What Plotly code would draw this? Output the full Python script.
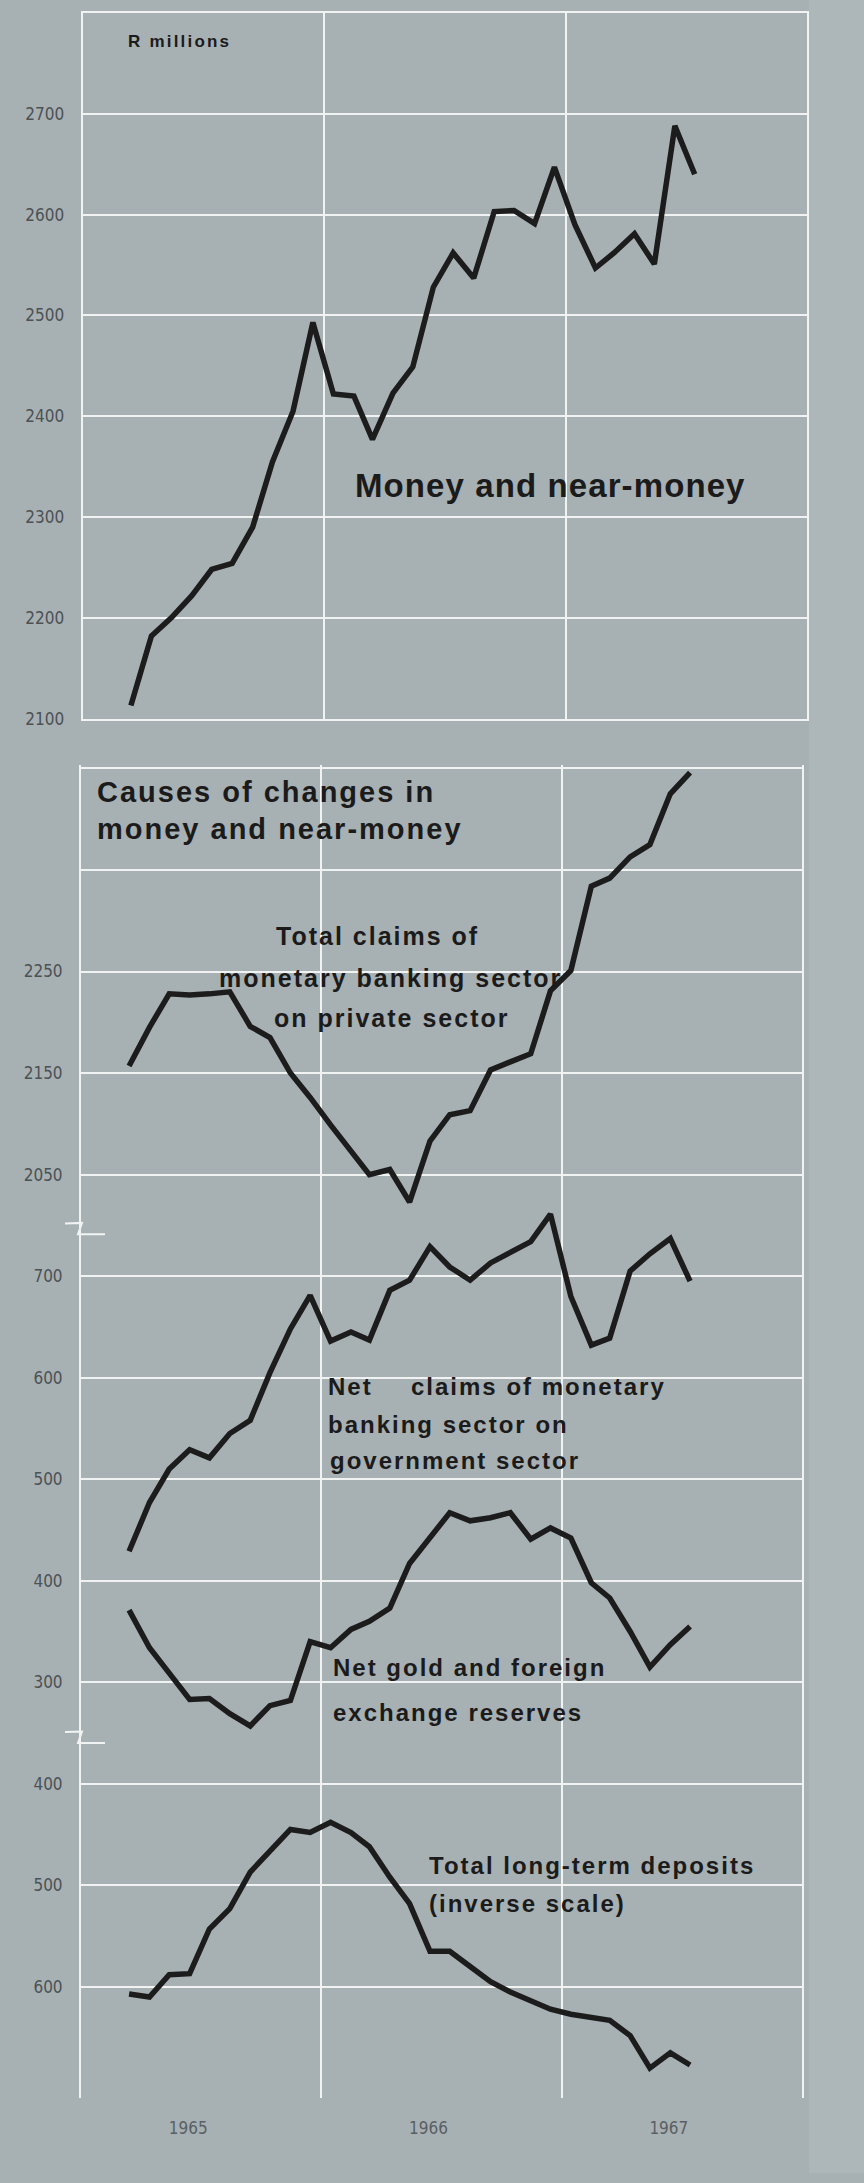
import plotly.graph_objects as go

W, H = 864, 2183

# ---------------- data (monthly, R millions) ----------------
months = ["1965-03", "1965-04", "1965-05", "1965-06", "1965-07", "1965-08", "1965-09",
          "1965-10", "1965-11", "1965-12", "1966-01", "1966-02", "1966-03", "1966-04",
          "1966-05", "1966-06", "1966-07", "1966-08", "1966-09", "1966-10", "1966-11",
          "1966-12", "1967-01", "1967-02", "1967-03", "1967-04", "1967-05", "1967-06",
          "1967-07"]
dates = [m + "-15" for m in months]

money_near_money = [2113, 2182, 2200, 2222, 2248, 2254, 2290, 2355, 2405, 2493, 2422, 2420,
                    2377, 2423, 2449, 2528, 2562, 2537, 2603, 2604, 2591, 2647, 2590, 2547,
                    2562, 2581, 2551, 2688, 2640]
private_claims = [2157, 2195, 2228, 2227, 2228, 2230, 2196, 2185, 2150, 2126, 2099, 2074,
                  2050, 2055, 2023, 2083, 2109, 2113, 2153, 2161, 2169, 2231, 2251, 2334,
                  2342, 2363, 2375, 2425, 2446]
government_claims = [429, 477, 510, 529, 521, 545, 558, 605, 648, 681, 636, 645, 637, 686,
                     696, 729, 709, 696, 713, 723, 734, 761, 680, 632, 639, 705, 722, 737, 695]
gold_reserves = [371, 334, 309, 283, 284, 269, 257, 277, 282, 340, 334, 352, 360, 373, 417,
                 443, 467, 459, 462, 467, 441, 452, 442, 398, 383, 350, 315, 337, 355]
long_term_deposits = [607, 610, 588, 587, 543, 523, 487, 467, 445, 448, 438, 448, 462, 492,
                      518, 565, 565, 580, 595, 605, 613, 622, 627, 630, 633, 648, 680, 665, 677]

top_ticks = [2100, 2200, 2300, 2400, 2500, 2600, 2700]
private_ticks = [2050, 2150, 2250, 2350, 2450]
private_ticktext = ["2050", "2150", "2250", "", ""]
govgold_ticks = [300, 400, 500, 600, 700]
deposit_ticks = [400, 500, 600]

# ---------------- style ----------------
BG = "#a7b0b3"
GRID = "#f1f3f3"
LINE = "#1c1c1c"
TXT = "#1b1b1b"
TICKC = "#4b5255"
TICKFONT = dict(family="DejaVu Sans Condensed, Liberation Sans Narrow, sans-serif",
                size=17, color=TICKC)
LABFONT = "Liberation Sans, Arial, Helvetica, sans-serif"


def py(p):
    return 1 - p / H


def pxx(p):
    return p / W


K = 1.02  # pixels per unit in lower panel

fig = go.Figure()

line_style = dict(color=LINE, width=5.5)
fig.add_trace(go.Scatter(x=dates, y=money_near_money, mode="lines", line=line_style,
                         xaxis="x", yaxis="y", showlegend=False))
fig.add_trace(go.Scatter(x=dates, y=private_claims, mode="lines", line=line_style,
                         xaxis="x2", yaxis="y2", showlegend=False))
fig.add_trace(go.Scatter(x=dates, y=government_claims, mode="lines", line=line_style,
                         xaxis="x2", yaxis="y3", showlegend=False))
fig.add_trace(go.Scatter(x=dates, y=gold_reserves, mode="lines", line=line_style,
                         xaxis="x2", yaxis="y3", showlegend=False))
fig.add_trace(go.Scatter(x=dates, y=long_term_deposits, mode="lines", line=line_style,
                         xaxis="x2", yaxis="y4", showlegend=False))

xcommon = dict(type="date", range=["1965-01-01", "1968-01-01"], dtick="M12",
               tick0="1965-01-01", showgrid=True, gridcolor=GRID, gridwidth=2,
               zeroline=False, ticks="", fixedrange=True)
ycommon = dict(showgrid=True, gridcolor=GRID, gridwidth=2, zeroline=False, ticks="",
               showline=True, mirror=True, linecolor=GRID, linewidth=2,
               tickfont=TICKFONT, ticklabelstandoff=13, fixedrange=True)

fig.update_layout(
    width=W, height=H,
    margin=dict(l=0, r=0, t=0, b=0),
    paper_bgcolor=BG, plot_bgcolor="rgba(0,0,0,0)",
    xaxis=dict(**xcommon, domain=[pxx(82.6), pxx(807.2)], anchor="y",
               showticklabels=False, showline=True, mirror=True,
               linecolor=GRID, linewidth=2),
    yaxis=dict(**ycommon, domain=[py(722), py(13)], range=[2100, 2800],
               tickvals=top_ticks, anchor="x"),
    xaxis2=dict(**xcommon, domain=[pxx(81), pxx(802)], anchor="y4",
                showticklabels=True, tickformat="%Y", ticklabelmode="period",
                showline=False, tickfont=dict(TICKFONT, color="#596063"),
                ticklabelstandoff=18, ticklabelshift=-13),
    yaxis2=dict(**ycommon, anchor="x2", domain=[py(1238), py(769)],
                range=[2450 - (1238 - 772) / K, 2450 + (772 - 769) / K],
                tickvals=private_ticks, ticktext=private_ticktext),
    # government / gold band (extends upward so the government peaks are not clipped)
    yaxis3=dict(**ycommon, anchor="x2", domain=[py(1750), py(1190)],
                range=[300 - (1750 - 1690) / K, 700 + (1282 - 1190) / K],
                tickvals=govgold_ticks),
    yaxis4=dict(**ycommon, anchor="x2", domain=[py(2108), py(1750)],
                range=[600 + (2108 - 1996) / K, 400 - (1792 - 1750) / K],
                tickvals=deposit_ticks),
)

# lighter strip at the right edge of the page
fig.add_shape(type="rect", xref="paper", yref="paper", x0=pxx(809), x1=1, y0=0, y1=1,
              fillcolor="#adb6b8", line=dict(width=0), layer="below")


# ---------------- text labels ----------------
def label(text, x, y, size, spacing, color=TXT):
    fig.add_annotation(
        text=f'<span style="letter-spacing:{spacing}px"><b>{text}</b></span>',
        x=pxx(x), y=py(y), xref="paper", yref="paper", xanchor="left",
        yanchor="middle", showarrow=False,
        font=dict(family=LABFONT, size=size, color=color))


label("R millions", 125.6, 42, 17, 2.2)
label("Money and near-money", 353, 488, 33, 1.1)
label("Causes of changes in", 95, 796, 29, 2)
label("money and near-money", 95, 833, 29, 2)
label("Total claims of", 274, 940, 25, 2)
label("monetary banking sector", 216.5, 983, 25, 2)
label("on private sector", 271.6, 1023, 25, 2)
label("Net", 326, 1393, 24, 2)
label("claims of monetary", 409, 1393, 24, 2)
label("banking sector on", 326, 1431, 24, 2)
label("government sector", 328, 1467, 24, 2)
label("Net gold and foreign", 330.7, 1675, 24, 2)
label("exchange reserves", 330.7, 1720, 24, 2)
label("Total long-term deposits", 426.7, 1874.5, 24, 2)
label("(inverse scale)", 426.7, 1912.6, 24, 2)


# ---------------- scale-break marks ----------------
def brk(b):
    pts = [(65, b - 10), (82, b - 10.5), (78, b + 1), (105, b + 1)]
    path = "M " + " L ".join(f"{pxx(x):.5f},{py(y):.5f}" for x, y in pts)
    fig.add_shape(type="path", path=path, xref="paper", yref="paper",
                  line=dict(color=GRID, width=2))


brk(1239)
brk(1750)

fig.write_html("out.html",
               config={"displayModeBar": False, "staticPlot": True},
               post_script="document.body.style.margin='0';"
                           "document.body.style.overflow='hidden';")
